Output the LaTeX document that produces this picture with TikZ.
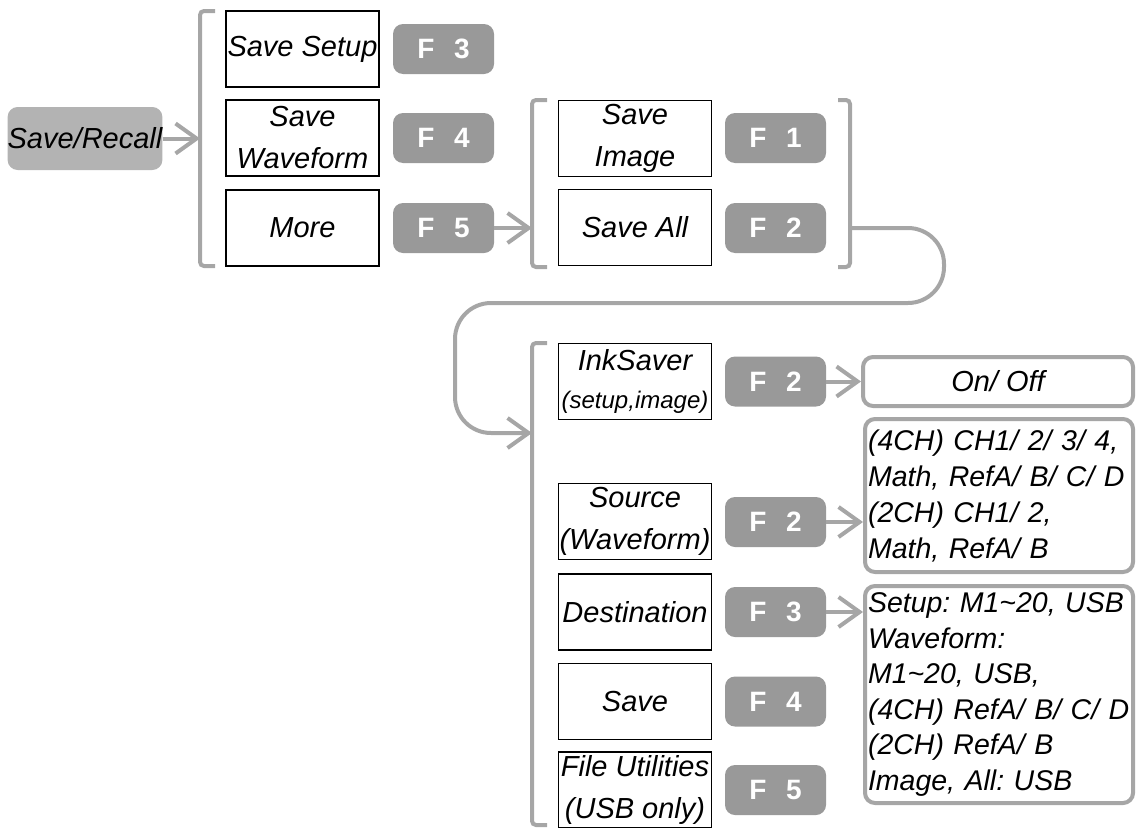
\documentclass[tikz,border=0pt]{standalone}
\usepackage{fontspec}
\setmainfont{Liberation Sans}
\usetikzlibrary{arrows.meta,positioning,calc}
\definecolor{MenuKey}{HTML}{999999}
\definecolor{MenuSoft}{HTML}{B3B3B3}
\definecolor{MenuLine}{HTML}{A6A6A6}
\frenchspacing

\begin{document}
\begin{tikzpicture}[
  x=1pt,
  y=-1pt,
  every node/.style={font=\fontsize{29}{42}\selectfont\itshape},
  item/.style={draw=black, line width=1.5pt, minimum width=153pt, minimum height=76pt, inner sep=0pt, align=center},
  fkey/.style={fill=MenuKey, rounded corners=10pt, minimum width=101pt, minimum height=50pt, inner sep=0pt, text=white, font=\fontsize{28}{30}\selectfont\bfseries},
  optbox/.style={draw=MenuLine, line width=4pt, rounded corners=10pt, fill=white, inner sep=4pt},
  conn/.style={draw=MenuLine, line width=4pt, -{Straight Barb[length=21pt,width=30pt]}},
  brace/.style={draw=MenuLine, line width=4pt, rounded corners=4pt}
]
\useasboundingbox (0,0) rectangle (1137,827);

% top level
\node[fill=MenuSoft, rounded corners=10pt, minimum width=154pt, minimum height=63pt, inner sep=0pt] (recall) at (85,138.5) {Save/Recall};
\coordinate (b1) at (200,138.5);
\draw[brace] (215,11) -- (200,11) -- (200,266) -- (215,266);

\node[item] (setup) at (302.5,49) {Save Setup};
\node[item] (wave) at (302.5,138) {Save\\Waveform};
\node[item] (more) at (302.5,228) {More};
\node[fkey] (f3) at (443.5,49) {F\hspace{0.7em}3};
\node[fkey] (f4) at (443.5,138) {F\hspace{0.7em}4};
\node[fkey] (f5) at (443.5,228) {F\hspace{0.7em}5};

% more page
\coordinate (b2) at (532,228);
\draw[brace] (547,100) -- (532,100) -- (532,267) -- (547,267);
\draw[brace] (838,100) -- (850,100) -- (850,267) -- (838,267);
\coordinate (b2r) at (850,228);

\node[item] (image) at (635,138.5) {Save\\Image};
\node[item] (all) at (635,227.5) {Save All};
\node[fkey] (f1) at (775.5,138) {F\hspace{0.7em}1};
\node[fkey] (f2) at (775.5,228) {F\hspace{0.7em}2};

% save page
\coordinate (b3) at (532,433);
\draw[brace] (547,343) -- (532,343) -- (532,825) -- (547,825);

\node[item] (ink) at (635,381.5) {InkSaver\\[-4pt]{\fontsize{24}{30}\selectfont(setup,image)}};
\node[item] (src) at (635,521.5) {Source\\(Waveform)};
\node[item] (dest) at (635,612) {Destination};
\node[item] (save) at (635,701.5) {Save};
\node[item] (util) at (635,790) {File Utilities\\(USB only)};

\node[fkey] (inkkey) at (775.5,381.5) {F\hspace{0.7em}2};
\node[fkey] (srckey) at (775.5,522) {F\hspace{0.7em}2};
\node[fkey] (destkey) at (775.5,612) {F\hspace{0.7em}3};
\node[fkey] (savekey) at (775.5,701.5) {F\hspace{0.7em}4};
\node[fkey] (utilkey) at (775.5,790) {F\hspace{0.7em}5};

\node[optbox, minimum width=270pt, minimum height=49pt] (onoff) at (998,381.5) {On/ Off};
\node[optbox, minimum width=268pt, minimum height=153pt, text width=262pt, inner sep=3pt, align=left, font=\fontsize{28.5}{36}\selectfont\itshape] (srcopt) at (999,495.5)
  {(4CH) CH1/ 2/ 3/ 4,\\Math, RefA/ B/ C/ D\\(2CH) CH1/ 2,\\Math, RefA/ B\\[-10pt]};
\node[optbox, minimum width=268pt, minimum height=217pt, text width=262pt, inner sep=3pt, align=left, font=\fontsize{28.5}{35.6}\selectfont\itshape] (destopt) at (999,694.5)
  {Setup: M1\textasciitilde20, USB\\Waveform:\\M1\textasciitilde20, USB,\\(4CH) RefA/ B/ C/ D\\(2CH) RefA/ B\\Image, All: USB};

% connectors
\draw[conn] (recall) -- (b1);
\draw[conn] (f5) -- (b2);
\draw[conn, rounded corners=36pt] (b2r) -- (944,228) -- (944,303) -- (455,303) -- (455,433) -- (b3);
\draw[conn] (inkkey) -- (onoff);
\draw[conn] (srckey) -- (srckey -| srcopt.west);
\draw[conn] (destkey) -- (destkey -| destopt.west);
\end{tikzpicture}
\end{document}
